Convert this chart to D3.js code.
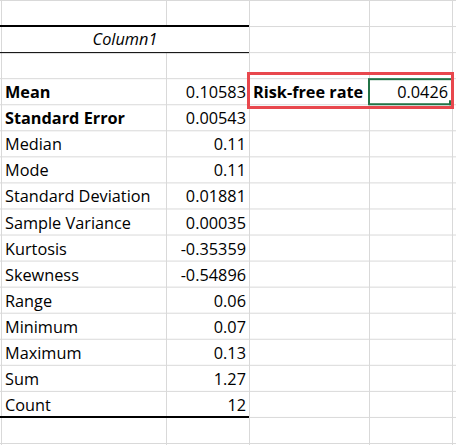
<!DOCTYPE html><html><head><meta charset="utf-8"><script src="https://cdn.jsdelivr.net/npm/d3@7"></script>
<style>body{margin:0;background:#fff}</style></head><body><svg id="s" width="456" height="445"></svg><script>
const labels=["Mean","Standard Error","Median","Mode","Standard Deviation","Sample Variance","Kurtosis","Skewness","Range","Minimum","Maximum","Sum","Count"];
const values=["0.10583","0.00543","0.11","0.11","0.01881","0.00035","-0.35359","-0.54896","0.06","0.07","0.13","1.27","12"];
const boldRows=["Mean","Standard Error"];
const header="Column1";
const sideLabel="Risk-free rate", sideValue="0.0426";
const svg=d3.select("#s");
const colX=[1,166,249,369,452];
const y=d3.scaleLinear().domain([0,17]).range([0,443]);
const font="'Open Sans', sans-serif";
const fs=16.3;
for(let i=0;i<=17;i++) svg.append("line").attr("x1",0).attr("x2",456).attr("y1",y(i)+0.5).attr("y2",y(i)+0.5).attr("stroke","#d9d9d9");
colX.forEach(x=>svg.append("line").attr("x1",x+0.5).attr("x2",x+0.5).attr("y1",0).attr("y2",445).attr("stroke","#d9d9d9"));
svg.append("rect").attr("x",colX[0]+1).attr("y",y(1)+1).attr("width",colX[2]-colX[0]-1).attr("height",y(2)-y(1)-1).attr("fill","#fff");
svg.append("line").attr("x1",0).attr("x2",colX[2]).attr("y1",y(1)).attr("y2",y(1)).attr("stroke","#000").attr("stroke-width",2);
svg.append("line").attr("x1",0).attr("x2",colX[2]).attr("y1",y(2)+0.5).attr("y2",y(2)+0.5).attr("stroke","#000").attr("stroke-width",1);
svg.append("line").attr("x1",0).attr("x2",colX[2]).attr("y1",y(16)).attr("y2",y(16)).attr("stroke","#000").attr("stroke-width",2);
svg.append("text").attr("x",(colX[0]+colX[2])/2).attr("y",y(2)-7).attr("text-anchor","middle").attr("font-family",font).attr("font-style","italic").attr("font-size",fs).text(header);
labels.forEach((l,i)=>{
 const yy=y(i+4)-6;
 svg.append("text").attr("x",5).attr("y",yy).attr("font-family",font).attr("font-size",fs).attr("font-weight",boldRows.includes(l)?"bold":"normal").text(l);
 svg.append("text").attr("x",colX[2]-3).attr("y",yy).attr("text-anchor","end").attr("font-family",font).attr("font-size",fs).text(values[i]);
});
svg.append("text").attr("x",colX[2]+4).attr("y",y(4)-6).attr("font-family",font).attr("font-size",fs).attr("font-weight","bold").text(sideLabel);
svg.append("rect").attr("x",colX[3]).attr("y",y(3)+1).attr("width",colX[4]-colX[3]).attr("height",y(4)-y(3)-1).attr("fill","#fff").attr("stroke","#217346").attr("stroke-width",2);
svg.append("rect").attr("x",colX[4]-3).attr("y",y(4)-4).attr("width",5).attr("height",5).attr("fill","#217346");
svg.append("text").attr("x",colX[4]-4).attr("y",y(4)-6).attr("text-anchor","end").attr("font-family",font).attr("font-size",fs).text(sideValue);
svg.append("rect").attr("x",248.5).attr("y",73.5).attr("width",204).attr("height",34).attr("fill","none").attr("stroke","#e8474d").attr("stroke-width",3);
</script></body></html>
